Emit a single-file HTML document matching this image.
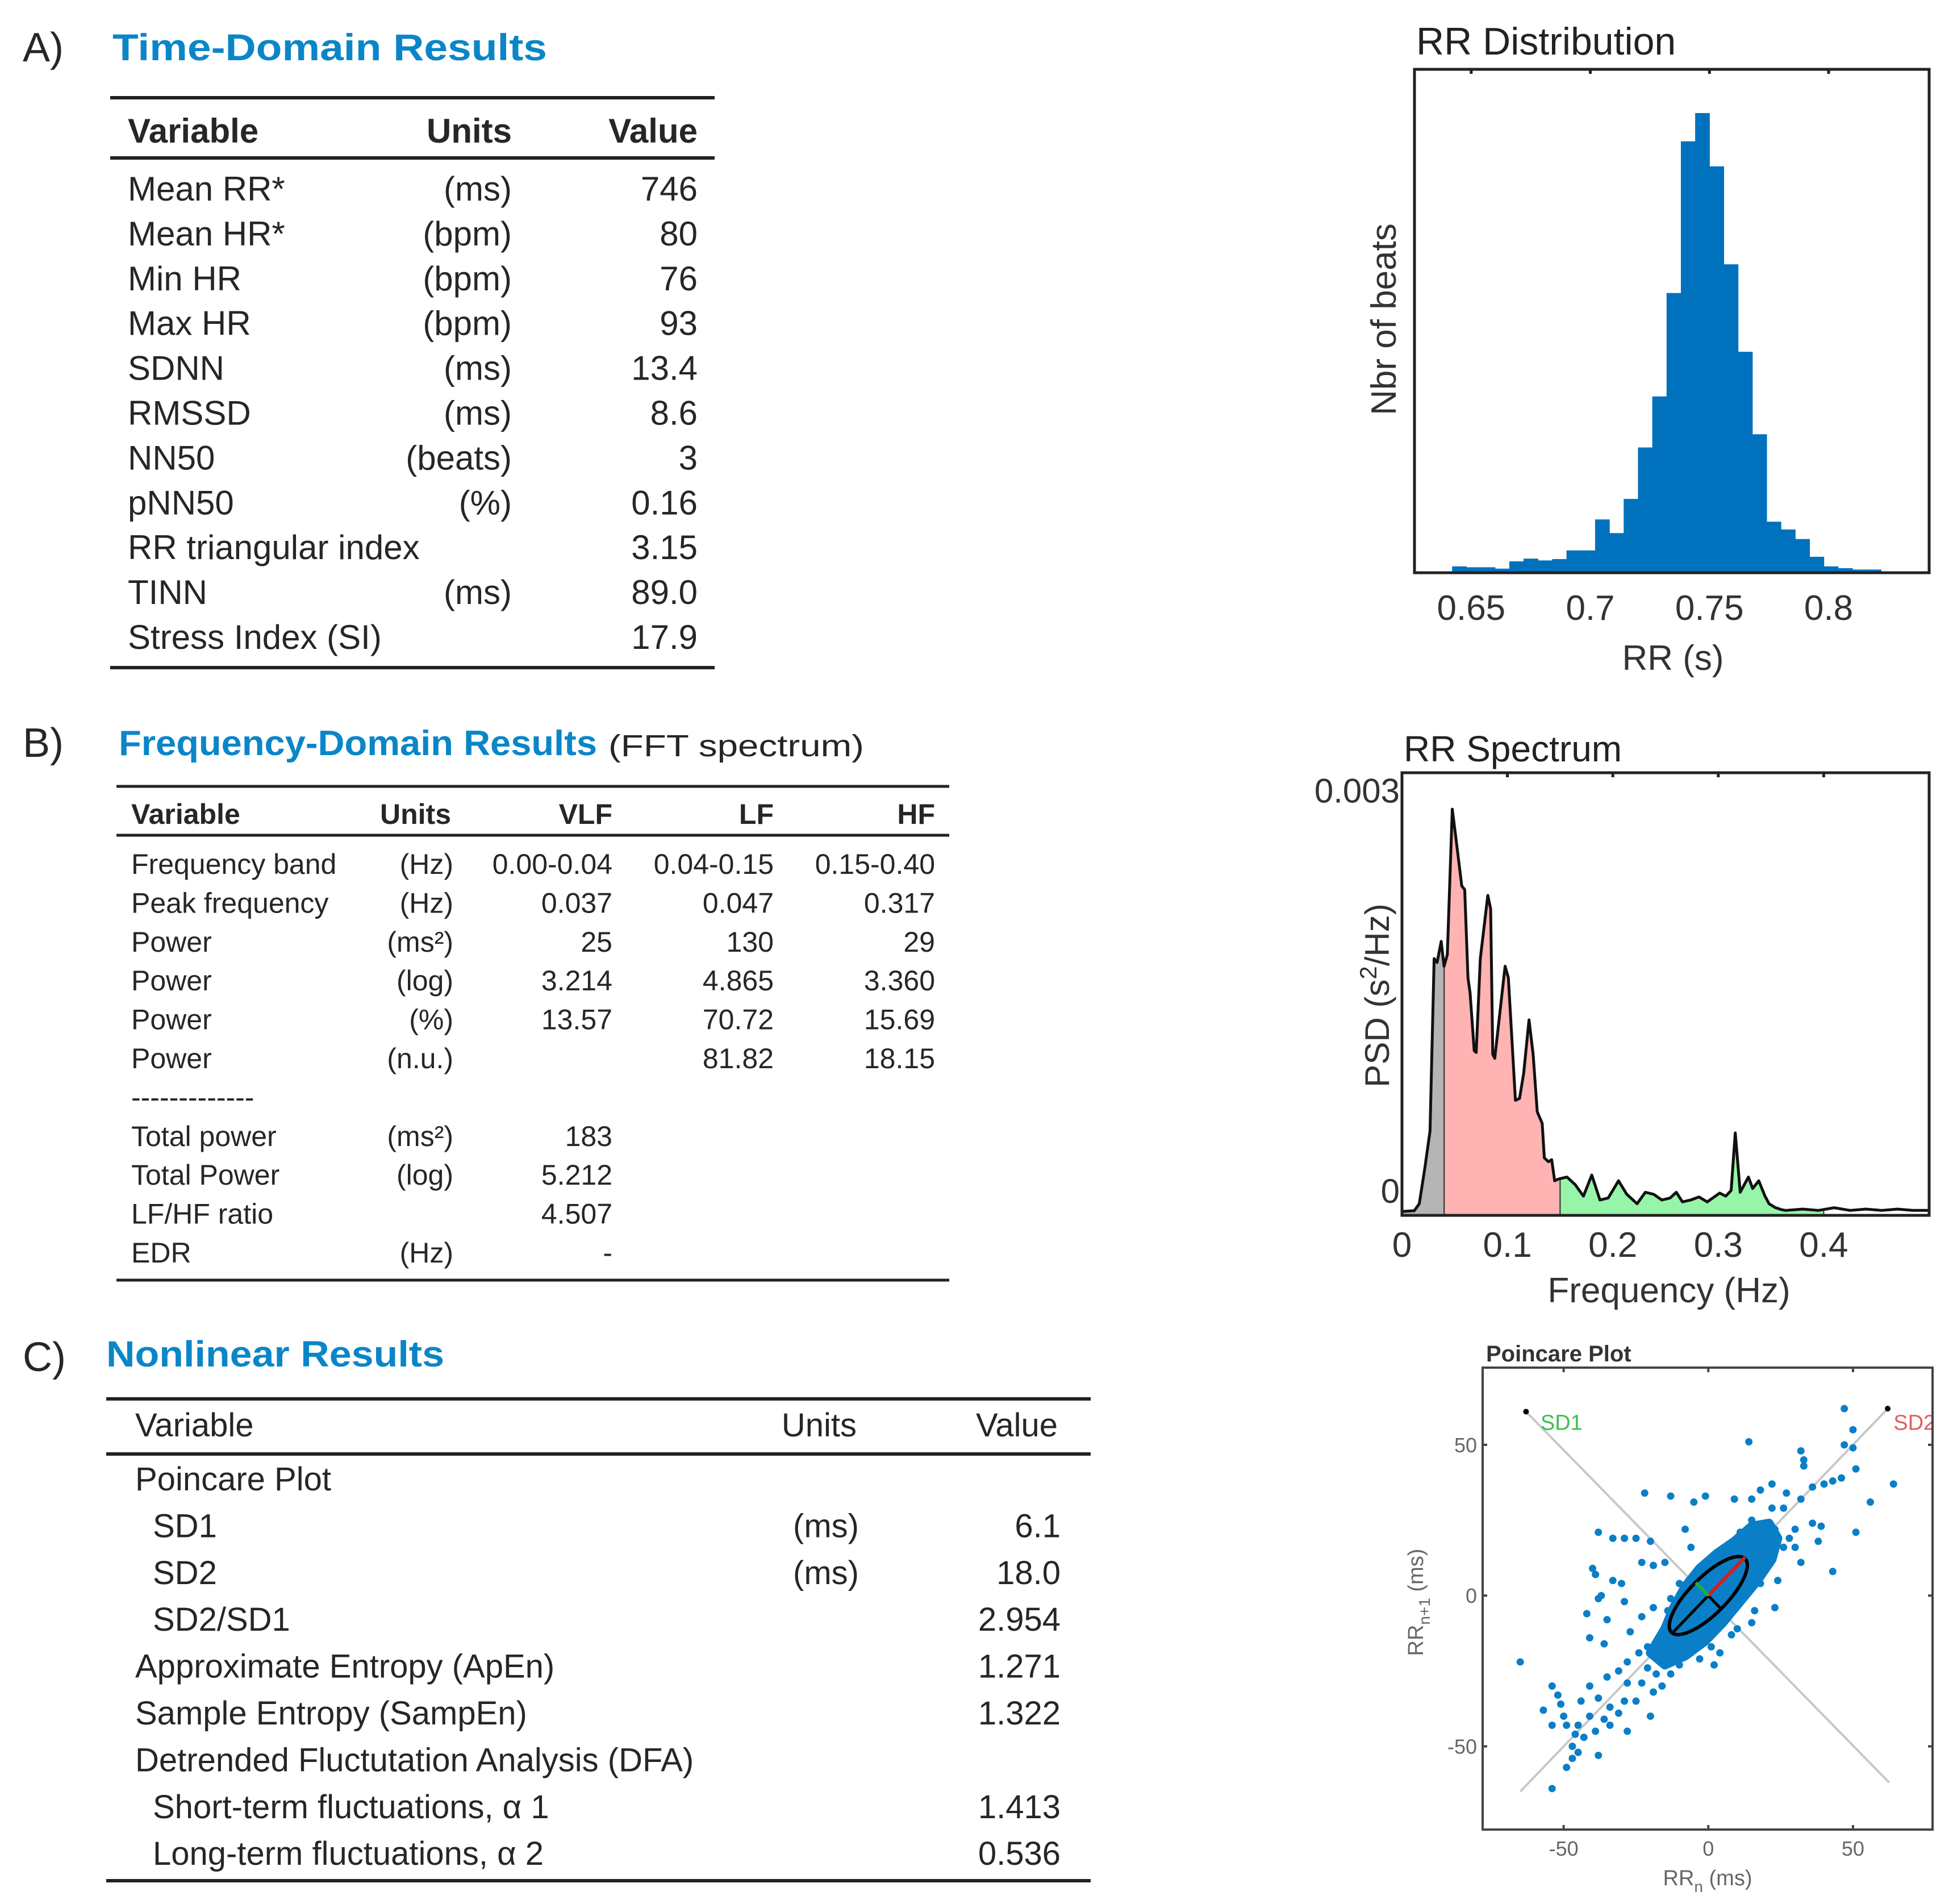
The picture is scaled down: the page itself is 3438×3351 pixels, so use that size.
<!DOCTYPE html>
<html><head><meta charset="utf-8"><style>
html,body{margin:0;padding:0;background:#fff;}
svg{display:block;font-family:"Liberation Sans",Arial,sans-serif;}
</style></head><body>
<svg id="root" width="3438" height="3351" viewBox="0 0 3438 3351" xmlns="http://www.w3.org/2000/svg">
<rect width="3438" height="3351" fill="#fff"/>
<g fill="#262626">
<text x="40" y="108" font-size="72">A)</text>
<text x="198" y="106" font-size="66" font-weight="bold" fill="#0a86c8" textLength="765" lengthAdjust="spacingAndGlyphs">Time-Domain Results</text>
<line x1="194" y1="172" x2="1258" y2="172" stroke="#222" stroke-width="6"/>
<line x1="194" y1="278" x2="1258" y2="278" stroke="#222" stroke-width="6"/>
<line x1="194" y1="1175" x2="1258" y2="1175" stroke="#222" stroke-width="6"/>
<g font-size="60" font-weight="bold">
<text x="225" y="251">Variable</text><text x="901" y="251" text-anchor="end">Units</text><text x="1228" y="251" text-anchor="end">Value</text>
</g>
<g id="tableA" font-size="60"></g>
</g>
<g fill="#262626">
<text x="40" y="1332" font-size="72">B)</text>
<text x="209" y="1329" font-size="62" font-weight="bold" fill="#0a86c8" textLength="842" lengthAdjust="spacingAndGlyphs">Frequency-Domain Results</text>
<text x="1071" y="1331" font-size="54" textLength="450" lengthAdjust="spacingAndGlyphs">(FFT spectrum)</text>
<line x1="205" y1="1384" x2="1671" y2="1384" stroke="#222" stroke-width="5"/>
<line x1="205" y1="1470" x2="1671" y2="1470" stroke="#222" stroke-width="5"/>
<line x1="205" y1="2253" x2="1671" y2="2253" stroke="#222" stroke-width="5"/>
<g font-size="50" font-weight="bold">
<text x="231" y="1450">Variable</text><text x="794" y="1450" text-anchor="end">Units</text><text x="1078" y="1450" text-anchor="end">VLF</text><text x="1362" y="1450" text-anchor="end">LF</text><text x="1646" y="1450" text-anchor="end">HF</text>
</g>
<g id="tableB" font-size="50"></g>
</g>
<g fill="#262626">
<text x="40" y="2413" font-size="72">C)</text>
<text x="187" y="2405" font-size="64" font-weight="bold" fill="#0a86c8" textLength="595" lengthAdjust="spacingAndGlyphs">Nonlinear Results</text>
<line x1="187" y1="2462" x2="1920" y2="2462" stroke="#222" stroke-width="6"/>
<line x1="187" y1="2559" x2="1920" y2="2559" stroke="#222" stroke-width="6"/>
<line x1="187" y1="3310" x2="1920" y2="3310" stroke="#222" stroke-width="6"/>
<g font-size="58">
<text x="238" y="2528">Variable</text><text x="1508" y="2528" text-anchor="end">Units</text><text x="1862" y="2528" text-anchor="end">Value</text>
</g>
<g id="tableC" font-size="58"></g>
</g>
<g id="hist"></g>
<g id="spec"></g>
<g id="poin"></g>
</svg>
<script>
const histStart = 0.642;
const histBinWidth = 0.006;
const histCounts = [1.4,1.2,1.2,0.9,2.5,3.1,2.7,3.0,4.9,4.9,11.7,8.7,16.2,27.5,38.7,61.4,94.7,100.9,89.2,67.7,48.5,30.4,11.2,9.5,7.4,3.5,1.4,1.0,0.7,0.7];
const histTicks = [0.65,0.7,0.75,0.8];
const histTickLabels = ["0.65","0.7","0.75","0.8"];
const specFreq = [0,.0117,.0164,.0215,.0266,.0305,.0333,.0372,.0399,.043,.0477,.0509,.0567,.0595,.0626,.0646,.0685,.0704,.0743,.0814,.0841,.0861,.088,.0978,.1009,.1076,.1115,.1154,.1205,.1244,.1283,.133,.135,.1389,.142,.1448,.1487,.1565,.1643,.1721,.18,.1878,.1956,.2054,.2132,.223,.2308,.2387,.2465,.2543,.2602,.266,.2739,.2817,.2895,.3013,.3071,.3122,.3161,.3208,.3247,.3286,.3326,.3384,.3443,.3482,.3541,.3599,.3638,.38,.395,.41,.425,.44,.455,.47,.485,.5];
const specPsd = [-0.000158,-0.000152,-0.0001,0.000158,0.000445,0.001737,0.001708,0.001866,0.00168,0.001766,0.002857,0.002656,0.002282,0.002254,0.001593,0.001479,0.001048,0.001034,0.001737,0.002211,0.00211,0.001019,0.00099,0.00168,0.001593,0.000675,0.000689,0.000876,0.001278,0.001019,0.000589,0.000502,0.000244,0.000215,0.00023,0.000072,0.000086,0.0001,0.000043,-0.000043,0.000115,-0.000072,-0.000057,0.000072,-0.000029,-0.0001,-0.000014,-0.000029,-0.000072,-0.000057,-0.000014,-0.000086,-0.000072,-0.000049,-0.000086,-0.00002,-0.000043,0,0.000431,-0.000014,0.000043,0.0001,0.000014,0.000072,-0.000043,-0.0001,-0.000129,-0.000144,-0.00015,-0.00014,-0.00015,-0.00013,-0.00015,-0.00014,-0.00015,-0.00014,-0.00015,-0.00015];
const bandNames = ["VLF","LF","HF"];
const bandEdges = [[0,0.04],[0.04,0.15],[0.15,0.40]];
const bandColors = ["#b4b4b4","#ffb3b3","#96f5a8"];
const specXTicks = [0,0.1,0.2,0.3,0.4];
const specXLabels = ["0","0.1","0.2","0.3","0.4"];
const specYTicks = [0,0.003];
const specYLabels = ["0","0.003"];
const poinX = [47,50,47,50,51,64,56,51,43,14,32,33,33,32,36,40,43,46,22,27,18,15,9,-1,-5,-13,-22,-38,-33,-29,-25,-20,-8,-6,-15,-19,-23,-40,-39,-33,-30,-37,-38,-29,-42,-35,-23,-19,-41,-36,-27,-65,-54,-52,-57,-54,-50,-49,-54,-41,-38,-34,-29,-25,-20,-19,-16,-13,-10,-6,2,4,10,15,23,24,32,30,38,36,39,22,26,-43,-38,-47,-45,-34,-28,-45,-41,-49,-44,-51,-35,-31,-28,-24,-21,-16,-14,-8,-11,-3,1,8,16,18,26,28,30,23,20,16,15,11,7,8,18,16,13,22,-23,-28,-36,-39,-46,-47,-31,-21,-18,-8,-4,-14,-9,-6,-10,-13];
const poinY = [62,55,50,49,42,37,31,21,8,51,48,45,43,32,36,37,38,39,37,34,35,32,32,33,31,33,34,21,19,19,19,18,22,16,11,10,11,9,7,5,4,0,-1,-2,-6,-8,-7,-4,-14,-16,-12,-22,-30,-33,-38,-43,-40,-57,-64,-30,-34,-37,-35,-35,-40,-32,-30,-26,-23,-19,-23,-19,-11,-9,-4,5,11,16,18,24,23,29,29,-47,-53,-50,-52,-43,-45,-43,-40,-43,-35,-36,-27,-25,-22,-19,-17,-22,-16,-14,-10,-21,-17,-13,-5,4,16,19,22,22,21,16,25,21,17,14,10,6,4,14,-29,-29,-41,-45,-46,-54,-39,-24,-26,-17,-12,-5,-5,1,4,-1];
const coreX = [-20,-15,-12,-8,-3,3,9,15,21,24,22,17,11,5,-1,-8,-15];
const coreY = [-19,-11,-4,3,9,14,18,23,24,19,12,5,-2,-9,-15,-20,-23];
const sd1 = 6.1, sd2 = 18.0;
const poinTicks = [-50,0,50];
const poinTickLabels = ["-50","0","50"];

const tableARows = [["Mean RR*","(ms)","746"],["Mean HR*","(bpm)","80"],["Min HR","(bpm)","76"],["Max HR","(bpm)","93"],["SDNN","(ms)","13.4"],["RMSSD","(ms)","8.6"],["NN50","(beats)","3"],["pNN50","(%)","0.16"],["RR triangular index","","3.15"],["TINN","(ms)","89.0"],["Stress Index (SI)","","17.9"]];
const tableBRows = [["Frequency band","(Hz)","0.00-0.04","0.04-0.15","0.15-0.40"],["Peak frequency","(Hz)","0.037","0.047","0.317"],["Power","(ms²)","25","130","29"],["Power","(log)","3.214","4.865","3.360"],["Power","(%)","13.57","70.72","15.69"],["Power","(n.u.)","","81.82","18.15"],["-------------","","","",""],["Total power","(ms²)","183","",""],["Total Power","(log)","5.212","",""],["LF/HF ratio","","4.507","",""],["EDR","(Hz)","-","",""]];
const tableCRows = [["Poincare Plot","","",0],["SD1","(ms)","6.1",1],["SD2","(ms)","18.0",1],["SD2/SD1","","2.954",1],["Approximate Entropy (ApEn)","","1.271",0],["Sample Entropy (SampEn)","","1.322",0],["Detrended Fluctutation Analysis (DFA)","","",0],["Short-term fluctuations, α 1","","1.413",1],["Long-term fluctuations, α 2","","0.536",1]];

const NS = "http://www.w3.org/2000/svg";
function mk(tag, attrs, parent, txt){const e=document.createElementNS(NS,tag);for(const k in attrs)e.setAttribute(k,attrs[k]);if(txt!==undefined)e.textContent=txt;parent.appendChild(e);return e;}

(function(){
  const g=document.getElementById('tableA');
  tableARows.forEach((r,i)=>{
    const y=353+i*78.9;
    const a=mk('text',{x:225,y:y},g,r[0]);
    
    
    if(r[1]){const b=mk('text',{x:901,y:y,'text-anchor':'end'},g,r[1]);
      
      }
    const c=mk('text',{x:1228,y:y,'text-anchor':'end'},g,r[2]);
    
    
  });
  const gb=document.getElementById('tableB');
  const cx=[231,798,1078,1362,1646];
  tableBRows.forEach((r,i)=>{
    const y=1538+i*68.4;
    r.forEach((t,j)=>{ if(!t) return;
      const e=mk('text',{x:cx[j],y:y,'text-anchor':j?'end':'start'},gb,t);
      
      
    });
  });
  const gc=document.getElementById('tableC');
  tableCRows.forEach((r,i)=>{
    const y=2623+i*82.4;
    const a=mk('text',{x:r[3]?269:238,y:y},gc,r[0]);
    
    
    if(r[1]){const b=mk('text',{x:1512,y:y,'text-anchor':'end'},gc,r[1]);
      
      }
    if(r[2]){const c=mk('text',{x:1867,y:y,'text-anchor':'end'},gc,r[2]);
      
      }
  });
})();

(function(){
  const g=document.getElementById('hist');
  const L=2490,R=3396,T=122,B=1008, xmin=0.6262,xmax=0.8422,ymax=110.5;
  const X=v=>L+(v-xmin)/(xmax-xmin)*(R-L), Y=v=>B-v/ymax*(B-T);
  histCounts.forEach((c,i)=>{
    const x0=X(histStart+i*histBinWidth), x1=X(histStart+(i+1)*histBinWidth);
    const r=mk('rect',{x:x0,y:Y(c),width:x1-x0+0.6,height:B-Y(c),fill:'#0072bd'},g);
    
    
  });
  const box=mk('rect',{x:L,y:T,width:R-L,height:B-T,fill:'none',stroke:'#222','stroke-width':5},g);
  
  
  histTicks.forEach((t,i)=>{
    mk('line',{x1:X(t),y1:T,x2:X(t),y2:T+8,stroke:'#222','stroke-width':5},g);
    const e=mk('text',{x:X(t),y:1091,'font-size':62,'text-anchor':'middle',fill:'#333'},g,histTickLabels[i]);
    
    
  });
  const xt=mk('text',{x:2945,y:1179,'font-size':62,'text-anchor':'middle',fill:'#333'},g,'RR (s)');
  
  
  const yt=mk('text',{x:0,y:0,'font-size':62,'text-anchor':'middle',fill:'#333',transform:'translate(2457,562) rotate(-90)'},g,'Nbr of beats');
  
  
  const tt=mk('text',{x:2493,y:96,'font-size':68,fill:'#222'},g,'RR Distribution');
  
  
})();

(function(){
  const g=document.getElementById('spec');
  const L=2468,R=3396,T=1360,B=2139, xmin=0,xmax=0.5,ymin=-0.000187,ymax=0.00313;
  const X=v=>L+(v-xmin)/(xmax-xmin)*(R-L), Y=v=>B-(v-ymin)/(ymax-ymin)*(B-T);
  function interp(f){for(let i=1;i<specFreq.length;i++){if(f<=specFreq[i]){const t=(f-specFreq[i-1])/(specFreq[i]-specFreq[i-1]);return specPsd[i-1]+t*(specPsd[i]-specPsd[i-1]);}}return specPsd[specPsd.length-1];}
  bandEdges.forEach((be,k)=>{
    let d='M'+X(be[0])+','+B+' L'+X(be[0])+','+Y(interp(be[0]));
    specFreq.forEach((f,i)=>{ if(f>be[0]&&f<be[1]) d+=' L'+X(f)+','+Y(specPsd[i]); });
    d+=' L'+X(be[1])+','+Y(interp(be[1]))+' L'+X(be[1])+','+B+' Z';
    const p=mk('path',{d:d,fill:bandColors[k],stroke:'#333','stroke-width':2},g);
    
    
  });
  let d='';
  specFreq.forEach((f,i)=>{ d+=(i?' L':'M')+X(f)+','+Y(specPsd[i]); });
  const line=mk('path',{d:d,fill:'none',stroke:'#111','stroke-width':5,'stroke-linejoin':'round'},g);
  
  
  const box=mk('rect',{x:L,y:T,width:R-L,height:B-T,fill:'none',stroke:'#222','stroke-width':5},g);
  
  
  specXTicks.forEach((t,i)=>{
    mk('line',{x1:X(t),y1:T,x2:X(t),y2:T+8,stroke:'#222','stroke-width':5},g);
    const e=mk('text',{x:X(t),y:2212,'font-size':62,'text-anchor':'middle',fill:'#333'},g,specXLabels[i]);
    
    
  });
  specYTicks.forEach((t,i)=>{
    const e=mk('text',{x:L-4,y:Y(t)+22,'font-size':60,'text-anchor':'end',fill:'#333'},g,specYLabels[i]);
    
    
  });
  const xt=mk('text',{x:2938,y:2292,'font-size':62,'text-anchor':'middle',fill:'#333'},g,'Frequency (Hz)');
  
  
  const yt=mk('text',{x:0,y:0,'font-size':60,'text-anchor':'middle',fill:'#333',transform:'translate(2445,1752) rotate(-90)'},g);
  
  
  yt.innerHTML='PSD (s<tspan dy="-22" font-size="42">2</tspan><tspan dy="22">/Hz)</tspan>';
  const tt=mk('text',{x:2471,y:1340,'font-size':64,fill:'#222'},g,'RR Spectrum');
  
  
})();

(function(){
  const g=document.getElementById('poin');
  const L=2610,R=3402,T=2407,B=3220, xmin=-78,xmax=77.5,ymin=-77.6,ymax=75.6;
  const X=v=>L+(v-xmin)/(xmax-xmin)*(R-L), Y=v=>B-(v-ymin)/(ymax-ymin)*(B-T);
  const clip=mk('clipPath',{id:'pclip'},g); mk('rect',{x:L,y:T,width:R-L,height:B-T},clip);
  const pg=mk('g',{'clip-path':'url(#pclip)'},g);
  const l1=mk('line',{x1:X(-65),y1:Y(-65),x2:X(62),y2:Y(62),stroke:'#c8c8c8','stroke-width':4},pg);
  
  
  const l2=mk('line',{x1:X(-63),y1:Y(61),x2:X(62.5),y2:Y(-62),stroke:'#c8c8c8','stroke-width':4},pg);
  
  
  let cd='';
  coreX.forEach((x,i)=>{cd+=(i?' L':'M')+X(x)+','+Y(coreY[i]);}); cd+=' Z';
  const core=mk('path',{d:cd,fill:'#0a7fc7',stroke:'#0a7fc7','stroke-width':16,'stroke-linejoin':'round'},pg);
  
  
  poinX.forEach((x,i)=>{
    const c=mk('circle',{cx:X(x),cy:Y(poinY[i]),r:6.5,fill:'#0a7fc7'},pg);
    
    
  });
  const sx=(R-L)/(xmax-xmin), sy=(B-T)/(ymax-ymin);
  const el=mk('ellipse',{cx:X(0),cy:Y(0),rx:sd2*sx,ry:sd1*sy,fill:'none',stroke:'#000','stroke-width':6,transform:'rotate(-45 '+X(0)+' '+Y(0)+')'},pg);
  
  
  const k2=sd2/Math.SQRT2, k1=sd1/Math.SQRT2;
  mk('line',{x1:X(0),y1:Y(0),x2:X(-k2),y2:Y(-k2),stroke:'#000','stroke-width':5},pg);
  mk('line',{x1:X(0),y1:Y(0),x2:X(k1),y2:Y(-k1),stroke:'#000','stroke-width':5},pg);
  const r2=mk('line',{x1:X(0),y1:Y(0),x2:X(k2),y2:Y(k2),stroke:'#d81e1e','stroke-width':6},pg);
  
  
  const r1=mk('line',{x1:X(0),y1:Y(0),x2:X(-k1),y2:Y(k1),stroke:'#1fae3a','stroke-width':6},pg);
  
  
  mk('circle',{cx:X(-63),cy:Y(61),r:5,fill:'#000'},pg);
  mk('circle',{cx:X(62),cy:Y(62),r:5,fill:'#000'},pg);
  const t1=mk('text',{x:X(-58),y:Y(55),'font-size':38,fill:'#3cbf4e'},pg,'SD1');
  
  
  const t2=mk('text',{x:X(64),y:Y(55),'font-size':38,fill:'#e06060'},pg,'SD2');
  
  
  const box=mk('rect',{x:L,y:T,width:R-L,height:B-T,fill:'none',stroke:'#444','stroke-width':4},g);
  
  
  poinTicks.forEach((t,i)=>{
    mk('line',{x1:X(t),y1:B,x2:X(t),y2:B-8,stroke:'#444','stroke-width':4},g);
    mk('line',{x1:X(t),y1:T,x2:X(t),y2:T+8,stroke:'#444','stroke-width':4},g);
    mk('line',{x1:L,y1:Y(t),x2:L+8,y2:Y(t),stroke:'#444','stroke-width':4},g);
    mk('line',{x1:R,y1:Y(t),x2:R-8,y2:Y(t),stroke:'#444','stroke-width':4},g);
    const a=mk('text',{x:X(t),y:3266,'font-size':36,'text-anchor':'middle',fill:'#666'},g,poinTickLabels[i]);
    
    
    const b=mk('text',{x:L-10,y:Y(t)+13,'font-size':36,'text-anchor':'end',fill:'#666'},g,poinTickLabels[i]);
    
    
  });
  const xt=mk('text',{x:3006,y:3318,'font-size':38,'text-anchor':'middle',fill:'#666'},g);
  
  
  xt.innerHTML='RR<tspan dy="12" font-size="28">n</tspan><tspan dy="-12"> (ms)</tspan>';
  const yt=mk('text',{x:0,y:0,'font-size':38,'text-anchor':'middle',fill:'#666',transform:'translate(2505,2820) rotate(-90)'},g);
  
  
  yt.innerHTML='RR<tspan dy="12" font-size="28">n+1</tspan><tspan dy="-12"> (ms)</tspan>';
  const tt=mk('text',{x:2616,y:2396,'font-size':40,'font-weight':'bold',fill:'#333'},g,'Poincare Plot');
  
  
})();
</script>
</body></html>
